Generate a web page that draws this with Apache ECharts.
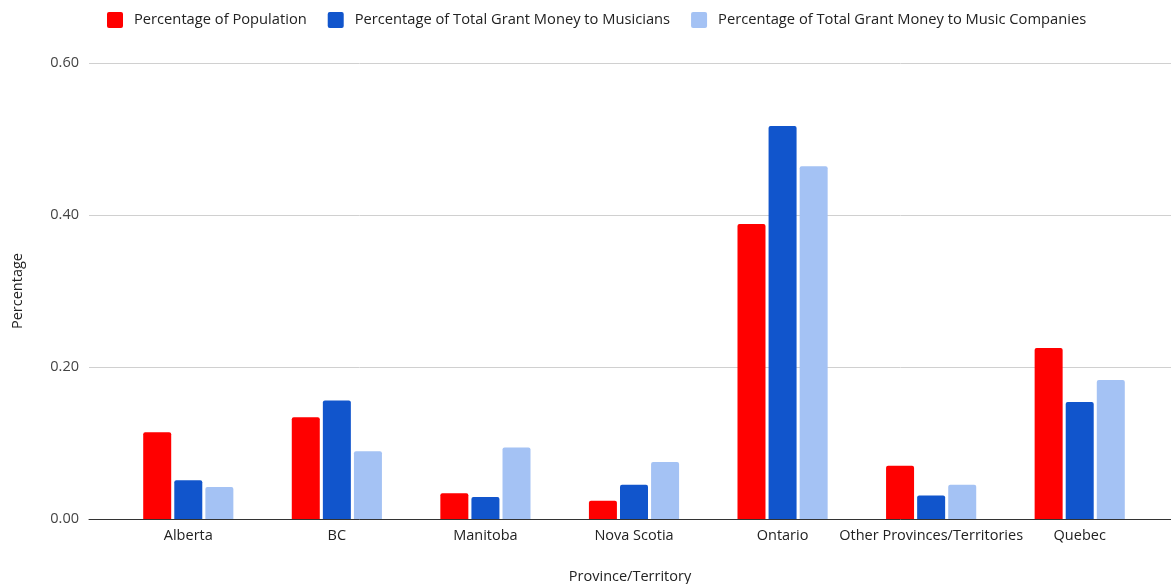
<!DOCTYPE html>
<html>
<head>
<meta charset="utf-8">
<script src="https://cdn.jsdelivr.net/npm/echarts@6/dist/echarts.min.js"></script>
<style>
  html, body { margin: 0; padding: 0; background: #fff; }
  #chart { width: 1171px; height: 584px; }
</style>
</head>
<body>
<div id="chart"></div>
<script>
// Share of population vs. share of grant money, by province/territory
const provinces = ['Alberta', 'BC', 'Manitoba', 'Nova Scotia', 'Ontario', 'Other Provinces/Territories', 'Quebec'];
const seriesNames = [
  'Percentage of Population',
  'Percentage of Total Grant Money to Musicians',
  'Percentage of Total Grant Money to Music Companies'
];
const population = [0.114, 0.134, 0.034, 0.024, 0.388, 0.070, 0.225];
const musicians = [0.051, 0.156, 0.029, 0.045, 0.517, 0.031, 0.154];
const companies = [0.042, 0.089, 0.094, 0.075, 0.464, 0.045, 0.183];
const yTicks = [0, 0.2, 0.4, 0.6];

const colors = ['#ff0000', '#1155cc', '#a4c2f4'];
const FONT = '"Open Sans", sans-serif';
const FS = 14.5;

const chart = echarts.init(document.getElementById('chart'));

function barSeries(name, data, color) {
  return {
    name: name,
    type: 'bar',
    xAxisIndex: 1,
    yAxisIndex: 1,
    data: data,
    barWidth: 28,
    barGap: '11%',
    itemStyle: { color: color, borderRadius: [2, 2, 0, 0] }
  };
}

chart.setOption({
  animation: false,
  textStyle: { fontFamily: FONT },
  legend: {
    top: 12,
    left: 107,
    padding: 0,
    itemWidth: 16,
    itemHeight: 16,
    itemGap: 21,
    icon: 'path://M2,0 L14,0 Q16,0 16,2 L16,14 Q16,16 14,16 L2,16 Q0,16 0,14 L0,2 Q0,0 2,0 Z',
    data: seriesNames,
    textStyle: { fontSize: 14.7, color: '#222', fontFamily: FONT, padding: [0, 0, 0, 6] }
  },
  grid: [
    // frame: gridlines, value labels and baseline across the full width
    { left: 89, right: 0, top: 63, bottom: 65, outerBoundsMode: 'none', containLabel: false },
    // bars and category labels
    { left: 114, right: 17, top: 63, bottom: 65, outerBoundsMode: 'none', containLabel: false }
  ],
  xAxis: [
    {
      gridIndex: 0, type: 'value', min: 0, max: 1,
      axisLine: { show: true, lineStyle: { color: '#333', width: 1 } },
      axisTick: { show: false }, axisLabel: { show: false }, splitLine: { show: false },
      name: 'Province/Territory', nameLocation: 'middle', nameGap: 50,
      nameTextStyle: { fontSize: FS, color: '#222', fontFamily: FONT }
    },
    {
      gridIndex: 1, type: 'category', data: provinces,
      axisLine: { show: false }, axisTick: { show: false },
      axisLabel: { fontSize: FS, color: '#222', margin: 9, fontFamily: FONT, interval: 0 }
    }
  ],
  yAxis: [
    {
      gridIndex: 0, type: 'value', min: yTicks[0], max: yTicks[yTicks.length - 1], interval: 0.2,
      axisLine: { show: false }, axisTick: { show: false },
      axisLabel: { fontSize: FS, color: '#444', margin: 10, fontFamily: FONT, formatter: v => v.toFixed(2) },
      splitLine: { lineStyle: { color: '#d0d0d0', width: 1 } },
      name: 'Percentage', nameLocation: 'middle', nameGap: 64, nameRotate: 90,
      nameTextStyle: { fontSize: FS, color: '#222', fontFamily: FONT }
    },
    {
      gridIndex: 1, type: 'value', min: 0, max: 0.6, interval: 0.2, show: false
    }
  ],
  series: [
    barSeries(seriesNames[0], population, colors[0]),
    barSeries(seriesNames[1], musicians, colors[1]),
    barSeries(seriesNames[2], companies, colors[2])
  ]
});
</script>
</body>
</html>
